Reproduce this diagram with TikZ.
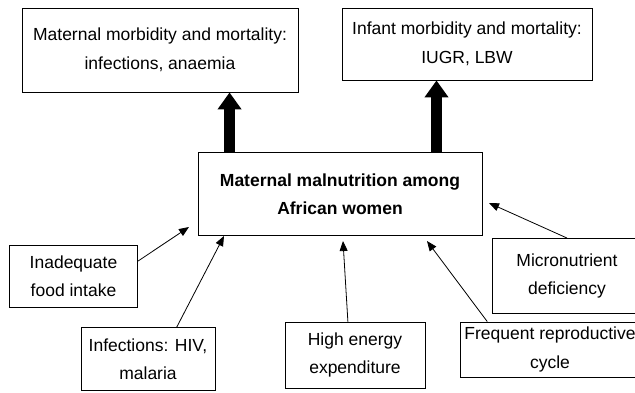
\documentclass[tikz,border=0pt]{standalone}
\usepackage{fontspec}
\setmainfont{Liberation Sans}
\usetikzlibrary{arrows.meta}

\tikzset{box/.style={draw, line width=0.9pt, align=center, inner sep=0pt, font=\fontsize{17.5}{28.5}\selectfont},
	cause/.style={-{Triangle[length=10pt,width=8pt]}, line width=0.8pt},
	effect/.style={-{Triangle[length=17pt,width=23pt]}, line width=11pt}}

\begin{document}
\begin{tikzpicture}[x=1pt, y=-1pt]
				\useasboundingbox (0,0) rectangle (635,393);
				% outcomes on top
				\node[box, minimum width=276pt, minimum height=84pt] (morb) at (160,50) {Maternal morbidity and mortality:\\infections, anaemia};
				\node[box, minimum width=250pt, minimum height=72pt] (infant) at (467,44) {Infant morbidity and mortality:\\IUGR, LBW};
				% central box
				\node[box, minimum width=284pt, minimum height=83pt, font=\fontsize{17.5}{28.5}\selectfont\bfseries] (malnut) at (340,194) {Maternal malnutrition among\\African women};
				% causes
				\node[box, minimum width=128pt, minimum height=62pt] (food) at (73.5,276) {Inadequate\\food intake};
				\node[box, minimum width=134pt, minimum height=63pt] (hiv) at (148,359) {Infections: HIV,\\malaria};
				\node[box, minimum width=140pt, minimum height=66pt] (energy) at (355,355) {High energy\\expenditure};
				\node[box, minimum width=180pt, minimum height=55pt] (repro) at (550,349.5) {Frequent reproductive\\cycle};
				\node[box, minimum width=150pt, minimum height=75pt] (micro) at (567,276) {Micronutrient\\deficiency};
				% arrow tips stop short of the central box
				\coordinate (tfood) at (189,227);
				\coordinate (thiv) at (224,236);
				\coordinate (tenergy) at (343,241);
				\coordinate (trepro) at (427,241);
				\coordinate (tmicro) at (489,203);
				\draw[cause] (food.13) -- (tfood);
				\draw[cause] (hiv.48) -- (thiv);
				\draw[cause] (energy.102) -- (tenergy);
				\draw[cause] (repro.156) -- (trepro);
				\draw[cause] (micro.north) -- (tmicro);
				\draw[effect] ([xshift=32pt]malnut.north west) -- ([xshift=32pt]malnut.north west |- morb.south);
				\draw[effect] ([xshift=-30.5pt]infant.south |- malnut.north) -- ([xshift=-30.5pt]infant.south);
			\end{tikzpicture}
\end{document}
